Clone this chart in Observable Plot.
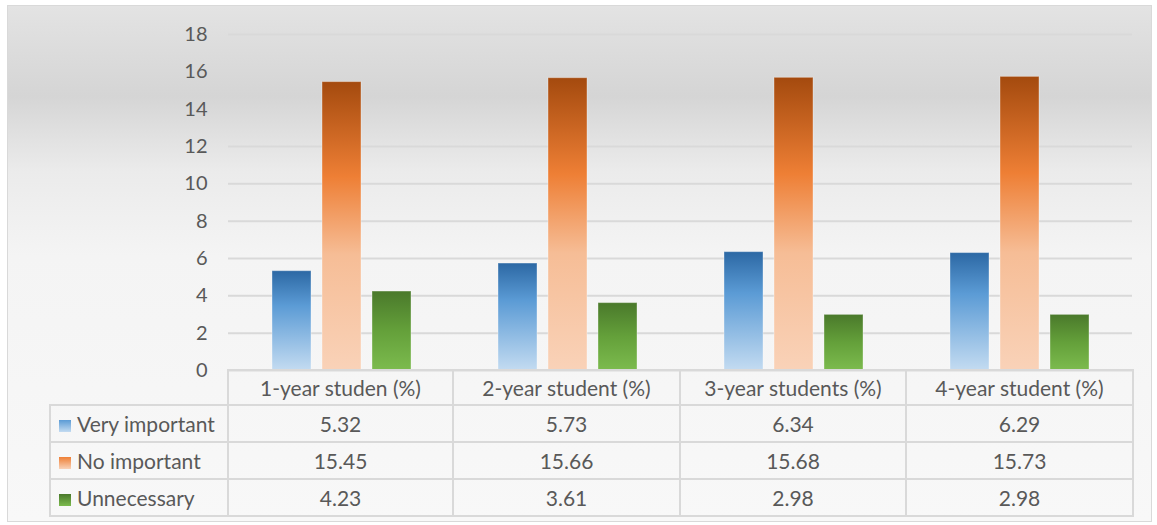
<!DOCTYPE html>
<html><head><meta charset="utf-8">
<script src="https://cdn.jsdelivr.net/npm/d3@7"></script>
<script src="https://cdn.jsdelivr.net/npm/@observablehq/plot@0.6"></script>
<style>
body{margin:0;background:#fff;width:1157px;height:525px;position:relative;overflow:hidden;font-family:Lato,"Open Sans",sans-serif;}
#frame{position:absolute;left:7px;top:5px;width:1143px;height:515px;border:1px solid #d9d9d9;
 background:linear-gradient(to bottom,#e3e3e3 0px,#d5d5d5 90px,#ebebeb 165px,#f4f4f4 250px,#f8f8f8 100%);}
#chart{position:absolute;left:0;top:0;}
#tbl{position:absolute;left:49px;top:369px;border-collapse:collapse;table-layout:fixed;color:#595959;font-size:21px;}
#tbl td{border:2px solid #d9d9d9;text-align:center;padding:0;white-space:nowrap;}
#tbl tr.h td{height:33px;}
#tbl tr.r td{height:35px;}
#tbl td.lg{text-align:left;padding-left:8px;}
#tbl td.blank{border-top:none;border-left:none;}
.key{display:inline-block;width:12px;height:12px;margin-right:6px;vertical-align:0px;}
</style></head>
<body>
<div id="frame"></div>
<div id="chart"></div>
<table id="tbl"></table>
<script>
const categories = ["1-year studen (%)", "2-year student (%)", "3-year students (%)", "4-year student (%)"];
const series = ["Very important", "No important", "Unnecessary"];
const veryImportant = [5.32, 5.73, 6.34, 6.29];
const noImportant = [15.45, 15.66, 15.68, 15.73];
const unnecessary = [4.23, 3.61, 2.98, 2.98];
const yTicks = [0, 2, 4, 6, 8, 10, 12, 14, 16, 18];

const seriesValues = [veryImportant, noImportant, unnecessary];
const gradIds = ["gBlue", "gOrange", "gGreen"];
const gradStops = [
  [[0, "#2c68a4"], [0.35, "#5b9bd5"], [1, "#c3dbf1"]],
  [[0, "#a44a0e"], [0.33, "#ee7f35"], [0.6, "#f6bd96"], [1, "#f9d2b8"]],
  [[0, "#4a792b"], [0.5, "#64a03a"], [1, "#7cbb4e"]]
];
const data = series.flatMap((s, i) => categories.map((c, j) => ({cat: c, series: s, value: seriesValues[i][j]})));

const chart = Plot.plot({
  width: 1157, height: 392,
  marginLeft: 227, marginRight: 24, marginTop: 34, marginBottom: 22,
  style: {background: "transparent", fontFamily: "Lato, 'Open Sans', sans-serif", color: "#595959", overflow: "visible"},
  fx: {domain: categories, padding: 0, axis: null},
  x: {domain: series, paddingInner: 0.23, paddingOuter: 0.84, axis: null},
  y: {domain: [0, 18]},
  marks: [
    Plot.gridY(yTicks, {stroke: "#d9d9d9", strokeOpacity: 1, strokeWidth: 2}),
    Plot.axisY(yTicks, {tickSize: 0, tickPadding: 21, fill: "#595959", fontSize: 20, label: null}),
    ...series.map((s, i) => Plot.barY(data.filter(d => d.series === s), {
      fx: "cat", x: "series", y: "value", fill: `url(#${gradIds[i]})`,
      stroke: "#ffffff", strokeOpacity: 0.35, strokeWidth: 1
    }))
  ]
});
const svg = d3.select(chart);
const defs = svg.insert("defs", ":first-child");
gradIds.forEach((id, i) => {
  const g = defs.append("linearGradient").attr("id", id).attr("x1", 0).attr("y1", 0).attr("x2", 0).attr("y2", 1);
  gradStops[i].forEach(([o, c]) => g.append("stop").attr("offset", o).attr("stop-color", c));
});
document.getElementById("chart").appendChild(chart);

// data table
const keyCss = [
  "linear-gradient(#5b9bd5,#c3dbf1)",
  "linear-gradient(#ee7f35,#f9d2b8)",
  "linear-gradient(#4a792b,#7cbb4e)"
];
const colW = [178, 225, 227, 226, 227];
const tbl = d3.select("#tbl");
const cg = tbl.append("colgroup");
colW.forEach(w => cg.append("col").style("width", w + "px"));
const hr = tbl.append("tr").attr("class", "h");
hr.append("td").attr("class", "blank");
categories.forEach(c => hr.append("td").text(c));
series.forEach((s, i) => {
  const r = tbl.append("tr").attr("class", "r");
  const td = r.append("td").attr("class", "lg");
  td.append("span").attr("class", "key").style("background", keyCss[i]);
  td.append("span").text(s);
  seriesValues[i].forEach(v => r.append("td").text(v.toFixed(2)));
});
</script>
</body></html>
